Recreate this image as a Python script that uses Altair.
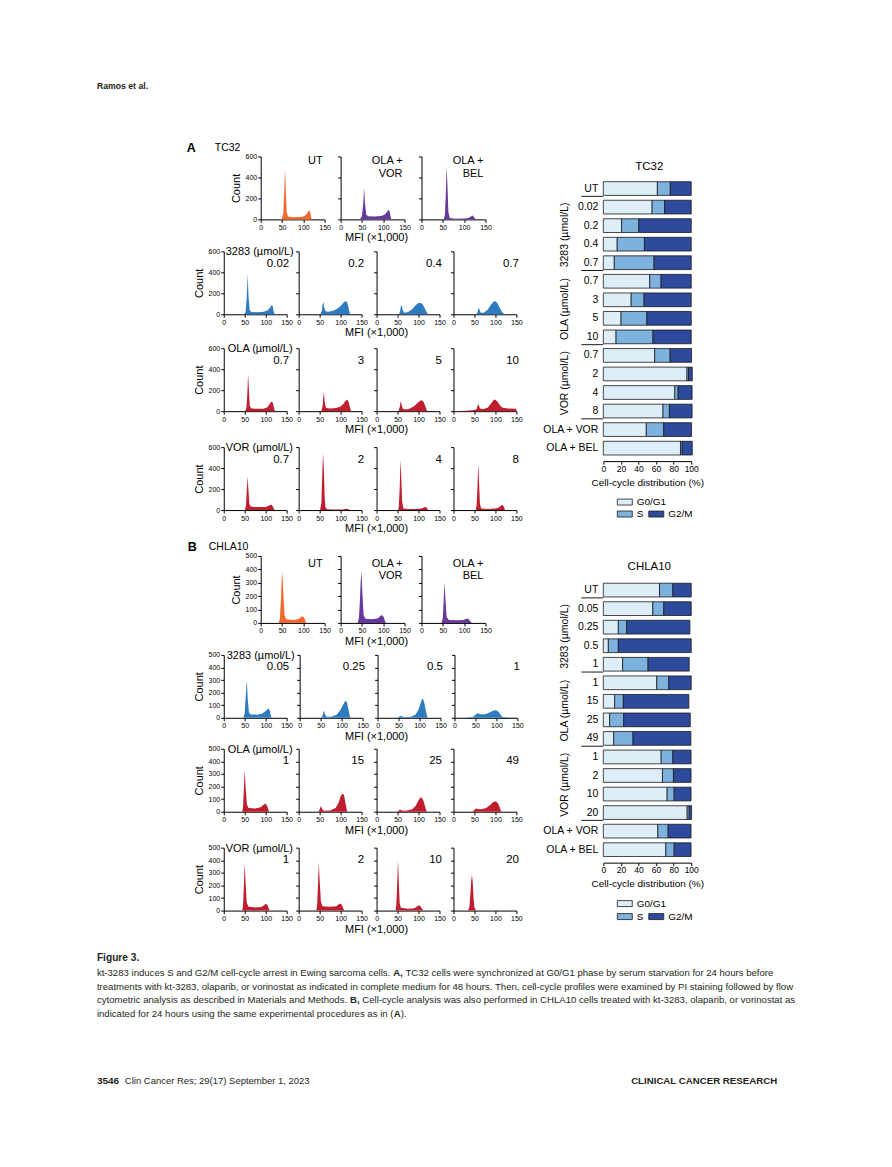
import altair as alt
import pandas as pd

FONT = "Liberation Sans"
INK = "#1a1a1a"
TXT = "#231f20"
ORANGE = "#F0692F"
PURPLE = "#67399B"
BLUE = "#2E7BC0"
RED = "#BE1E2E"
PHASES = ["G0/G1", "S", "G2/M"]
PHASE_COLORS = ["#DDEEF9", "#7DB1DE", "#2D4A9C"]

# ---------------- histogram curves (MFI x1,000 , count) ----------------
# Panel A (TC32)
A_UT = [(44, 0), (50, 8), (53, 60), (55, 250), (57, 480), (59, 260), (61, 70), (64, 28), (75, 20), (90, 22), (100, 28), (106, 42), (110, 65), (113, 85), (116, 72), (118, 20), (120, 0)]
A_OLA_VOR = [(45, 0), (50, 30), (53, 150), (55, 305), (57, 160), (60, 45), (65, 30), (80, 28), (95, 32), (103, 45), (108, 65), (112, 90), (115, 78), (117, 30), (119, 0)]
A_OLA_BEL = [(52, 0), (55, 50), (57, 250), (59, 510), (61, 300), (63, 70), (66, 12), (80, 6), (100, 8), (110, 14), (116, 28), (120, 36), (123, 22), (127, 0)]

A_3283 = [
    [(48, 0), (52, 20), (55, 180), (57, 385), (59, 170), (62, 35), (66, 22), (80, 20), (95, 24), (104, 35), (110, 60), (114, 88), (117, 75), (119, 30), (121, 0)],
    [(52, 0), (55, 30), (57, 90), (59, 117), (61, 60), (64, 28), (70, 25), (80, 32), (90, 48), (100, 80), (106, 108), (111, 124), (115, 118), (118, 80), (121, 25), (123, 0)],
    [(53, 0), (56, 30), (58, 75), (60, 88), (62, 40), (66, 15), (75, 22), (85, 48), (93, 85), (99, 106), (104, 110), (109, 98), (114, 65), (118, 30), (122, 5), (124, 0)],
    [(55, 0), (58, 30), (60, 60), (62, 45), (65, 15), (72, 15), (82, 45), (90, 95), (96, 122), (101, 124), (106, 95), (111, 55), (116, 20), (121, 5), (125, 0)],
]
A_OLA = [
    [(51, 0), (54, 30), (56, 150), (58, 355), (60, 200), (62, 50), (66, 25), (80, 22), (95, 24), (104, 38), (109, 65), (114, 92), (117, 80), (120, 30), (122, 0)],
    [(54, 0), (57, 50), (59, 150), (60, 180), (62, 90), (65, 30), (75, 25), (90, 30), (100, 45), (107, 70), (112, 100), (116, 110), (119, 90), (122, 40), (125, 0)],
    [(52, 0), (55, 35), (57, 85), (58, 95), (60, 55), (63, 20), (70, 15), (80, 25), (90, 50), (98, 80), (104, 100), (108, 104), (112, 90), (116, 50), (119, 15), (121, 0)],
    [(0, 0), (30, 5), (50, 12), (55, 18), (57, 45), (59, 72), (61, 45), (64, 22), (72, 20), (82, 35), (90, 75), (96, 108), (100, 110), (105, 90), (111, 55), (117, 32), (130, 26), (150, 22)],
]
A_VOR = [
    [(50, 0), (53, 40), (55, 200), (57, 320), (59, 180), (61, 60), (64, 35), (75, 30), (90, 28), (100, 30), (107, 40), (112, 50), (115, 48), (118, 25), (121, 0)],
    [(51, 0), (54, 60), (56, 300), (58, 545), (60, 400), (62, 120), (64, 25), (68, 8), (85, 5), (105, 6), (112, 10), (116, 12), (120, 5), (123, 0)],
    [(51, 0), (53, 30), (55, 200), (57, 480), (59, 300), (61, 80), (64, 15), (75, 10), (95, 10), (107, 14), (113, 25), (117, 32), (120, 20), (123, 0)],
    [(53, 0), (55, 40), (57, 200), (59, 445), (61, 260), (63, 60), (66, 14), (80, 10), (100, 14), (108, 25), (113, 40), (117, 50), (120, 30), (123, 0)],
]

# Panel B (CHLA10)
B_UT = [(42, 0), (45, 30), (47, 150), (49, 300), (51, 385), (53, 220), (56, 55), (60, 28), (75, 22), (88, 28), (94, 42), (98, 50), (102, 38), (105, 12), (107, 0)]
B_OLA_VOR = [(40, 0), (43, 40), (45, 150), (47, 300), (49, 388), (51, 230), (54, 60), (58, 32), (75, 28), (88, 35), (93, 52), (97, 60), (101, 45), (104, 15), (106, 0)]
B_OLA_BEL = [(47, 0), (50, 40), (52, 170), (54, 303), (56, 180), (59, 45), (64, 22), (85, 20), (98, 22), (104, 30), (108, 33), (112, 24), (115, 8), (118, 0)]

B_3283 = [
    [(47, 0), (50, 40), (52, 150), (55, 300), (57, 160), (60, 45), (64, 27), (80, 25), (92, 35), (100, 55), (104, 68), (107, 72), (110, 55), (112, 20), (114, 0)],
    [(52, 0), (55, 25), (57, 50), (58, 58), (60, 30), (64, 8), (75, 8), (88, 25), (97, 60), (103, 100), (107, 125), (110, 136), (113, 120), (116, 70), (119, 20), (121, 0)],
    [(48, 0), (52, 10), (55, 16), (58, 10), (65, 5), (80, 8), (90, 25), (97, 60), (102, 110), (106, 150), (109, 145), (112, 110), (115, 55), (118, 15), (120, 0)],
    [(0, 0), (30, 2), (45, 8), (50, 25), (54, 37), (58, 33), (65, 27), (75, 30), (85, 45), (92, 56), (97, 60), (102, 56), (107, 40), (111, 18), (115, 6), (130, 3), (150, 2)],
]
B_OLA = [
    [(44, 0), (46, 40), (48, 180), (50, 330), (52, 200), (55, 60), (59, 30), (75, 25), (88, 35), (95, 55), (99, 65), (103, 50), (106, 20), (108, 0)],
    [(47, 0), (50, 18), (53, 45), (56, 22), (60, 8), (75, 10), (88, 30), (95, 70), (100, 120), (104, 145), (108, 132), (111, 80), (114, 25), (116, 0)],
    [(50, 0), (53, 10), (56, 18), (60, 10), (70, 8), (85, 20), (93, 45), (99, 85), (104, 110), (107, 113), (111, 95), (115, 50), (118, 15), (120, 0)],
    [(45, 0), (50, 15), (54, 26), (58, 22), (66, 20), (78, 30), (88, 55), (95, 78), (100, 84), (105, 72), (109, 45), (112, 15), (114, 0)],
]
B_VOR = [
    [(44, 0), (46, 40), (48, 200), (50, 380), (52, 220), (55, 60), (59, 30), (75, 25), (90, 28), (96, 42), (100, 55), (104, 45), (107, 18), (109, 0)],
    [(42, 0), (44, 40), (46, 200), (48, 385), (50, 240), (53, 70), (57, 35), (75, 30), (90, 35), (95, 48), (99, 56), (103, 45), (106, 18), (109, 0)],
    [(45, 0), (47, 40), (49, 200), (51, 400), (53, 230), (55, 60), (58, 22), (75, 15), (90, 18), (96, 32), (101, 43), (105, 35), (108, 15), (112, 0)],
    [(35, 0), (38, 30), (40, 120), (42, 230), (44, 285), (46, 220), (48, 90), (50, 25), (53, 5), (56, 0)],
]

A_DOSES = {"3283": ["0.02", "0.2", "0.4", "0.7"], "OLA": ["0.7", "3", "5", "10"], "VOR": ["0.7", "2", "4", "8"]}
B_DOSES = {"3283": ["0.05", "0.25", "0.5", "1"], "OLA": ["1", "15", "25", "49"], "VOR": ["1", "2", "10", "20"]}
DRUG_TITLES = {"3283": "3283 (µmol/L)", "OLA": "OLA (µmol/L)", "VOR": "VOR (µmol/L)"}
A_YTICKS = [0, 200, 400, 600]
B_YTICKS = [0, 100, 200, 300, 400, 500]
X_TICKS = [0, 50, 100, 150]

# ---------------- cell-cycle distribution (%) ----------------
TC32_LABELS = ["UT", "0.02", "0.2", "0.4", "0.7", "0.7", "3", "5", "10", "0.7", "2", "4", "8", "OLA + VOR", "OLA + BEL"]
TC32_G1 = [61.5, 55.5, 20.8, 15.8, 12.5, 52.8, 31.7, 20.2, 14.5, 58.4, 95.2, 81.3, 67.9, 48.9, 87.8]
TC32_S = [14.7, 14.3, 19.6, 31.0, 45.2, 12.9, 14.7, 29.4, 42.0, 17.6, 1.8, 3.8, 7.3, 19.8, 1.9]
TC32_G2 = [23.8, 30.2, 59.6, 53.2, 42.3, 34.3, 53.6, 50.4, 43.5, 24.4, 4.2, 15.9, 25.8, 31.7, 11.5]

CHLA10_LABELS = ["UT", "0.05", "0.25", "0.5", "1", "1", "15", "25", "49", "1", "2", "10", "20", "OLA + VOR", "OLA + BEL"]
CHLA10_G1 = [63.9, 56.3, 17.1, 5.7, 22.0, 60.8, 12.9, 7.2, 11.8, 65.8, 67.3, 72.6, 95.4, 62.0, 71.1]
CHLA10_S = [15.2, 12.5, 9.5, 11.4, 28.9, 13.7, 9.9, 16.0, 22.0, 13.3, 12.5, 8.0, 2.3, 11.8, 9.5]
CHLA10_G2 = [20.9, 31.2, 71.9, 82.9, 46.8, 25.5, 74.5, 75.7, 65.8, 20.7, 20.0, 19.2, 2.7, 26.0, 19.2]

GROUP_LABELS = ["3283 (µmol/L)", "OLA (µmol/L)", "VOR (µmol/L)"]
GROUP_CENTERS = [2.5, 6.5, 10.5]
GROUP_BREAKS = [0.42, 4.42, 8.42, 12.42]

LEG_COL = [0, 0, 1]
LEG_ROW = [0, 1, 1]

# caption lines as (regular, bold, regular) pieces
CAPTION = [
    ("kt-3283 induces S and G2/M cell-cycle arrest in Ewing sarcoma cells. ", "A,",
     " TC32 cells were synchronized at G0/G1 phase by serum starvation for 24 hours before"),
    ("treatments with kt-3283, olaparib, or vorinostat as indicated in complete medium for 48 hours. Then, cell-cycle profiles were examined by PI staining followed by flow", "", ""),
    ("cytometric analysis as described in Materials and Methods. ", "B,",
     " Cell-cycle analysis was also performed in CHLA10 cells treated with kt-3283, olaparib, or vorinostat as"),
    ("indicated for 24 hours using the same experimental procedures as in (", "A", ")."),
]

# Arial / Liberation Sans advance widths (1/1000 em), used to butt caption pieces together
_W = {" ": 278, "!": 278, "%": 889, "(": 333, ")": 333, "+": 584, ",": 278, "-": 333, ".": 278, "/": 278,
      ":": 278, ";": 278, "A": 667, "B": 667, "C": 722, "D": 722, "E": 667, "F": 611, "G": 778, "H": 722,
      "I": 278, "J": 500, "K": 667, "L": 556, "M": 833, "N": 722, "O": 778, "P": 667, "Q": 778, "R": 722,
      "S": 667, "T": 611, "U": 722, "V": 667, "W": 944, "X": 667, "Y": 667, "Z": 611, "a": 556, "b": 556,
      "c": 500, "d": 556, "e": 556, "f": 278, "g": 556, "h": 556, "i": 222, "j": 222, "k": 500, "l": 222,
      "m": 833, "n": 556, "o": 556, "p": 556, "q": 556, "r": 333, "s": 500, "t": 278, "u": 556, "v": 500,
      "w": 722, "x": 500, "y": 500, "z": 500}
_WB = {"A": 722, "B": 722, ",": 278}

ONE = pd.DataFrame({"k": [0]})


def text_width(s, size, bold=False):
    tbl = _WB if bold else _W
    return sum(tbl.get(c, _W.get(c, 556)) for c in s) * size / 1000.0


def spacer(w, h):
    return alt.Chart(ONE).mark_rect(opacity=0).encode(
        x=alt.value(0), x2=alt.value(w), y=alt.value(0), y2=alt.value(h)).properties(width=w, height=h)


def box_layer(L, W, R, T, H, B):
    return alt.Chart(ONE).mark_rect(opacity=0).encode(
        x=alt.value(-L), x2=alt.value(W + R), y=alt.value(-T), y2=alt.value(H + B))


def text_layer(text, x, y, align="left", size=11, weight="normal", color="black", angle=0):
    return alt.Chart(ONE).mark_text(text=text, align=align, baseline="middle", fontSize=size,
                                    fontWeight=weight, color=color, font=FONT, angle=angle).encode(
        x=alt.value(x), y=alt.value(y))


def hist_panel(points, color, ymax, yticks, W, H, L, R, T, B, first, texts):
    df = pd.DataFrame(points, columns=["mfi", "count"])
    xaxis = alt.Axis(values=X_TICKS, labelFontSize=7, tickSize=3, labelPadding=1, labelFlush=False,
                     labelOverlap=False)
    yaxis = alt.Axis(values=yticks, labels=first, labelFontSize=7, tickSize=3, labelPadding=1,
                     titleFontSize=11, titlePadding=4, labelFlush=False, labelOverlap=False)
    area = alt.Chart(df).mark_area(color=color, opacity=1).encode(
        x=alt.X("mfi:Q", title=None, scale=alt.Scale(domain=[0, 150], nice=False, zero=False), axis=xaxis),
        y=alt.Y("count:Q", title="Count" if first else None, scale=alt.Scale(domain=[0, ymax], nice=False), axis=yaxis),
    )
    layers = [box_layer(L, W, R, T, H, B), area]
    for t in texts:
        layers.append(text_layer(*t))
    return alt.layer(*layers).properties(width=W, height=H)


def strip(h):
    return alt.layer(text_layer("MFI (×1,000)", 369, 7, align="center", size=11)).properties(width=527, height=h)


def top_row(curves, labels, ymax, yticks, H, T, label_y, extra):
    W = 64
    geo = [(252, 8), (8, 9), (8, 49)]
    panels = []
    for i, ((pts, col), lab, (L, R)) in enumerate(zip(curves, labels, geo)):
        texts = []
        for j, line in enumerate(lab):
            texts.append((line, W - 2, label_y + j * 12.5, "right", 11))
        if i == 0:
            texts += extra
        panels.append(hist_panel(pts, col, ymax, yticks, W, H, L, R, T, 12, i == 0, texts))
    return panels


def drug_row(curves, doses, drug, color, ymax, yticks, T, dose_y, title_dx):
    W, H = 63, 63
    geo = [(215, 8), (4, 11), (4, 10), (4, 18)]
    panels = []
    for i, (pts, dose, (L, R)) in enumerate(zip(curves, doses, geo)):
        texts = [(dose, W + 2.5, dose_y, "right", 11.5)]
        if i == 0:
            texts.append((DRUG_TITLES[drug], title_dx, 1, "left", 11))
        panels.append(hist_panel(pts, color, ymax, yticks, W, H, L, R, T, 12, i == 0, texts))
    return panels


def row(panels, strip_h):
    return alt.vconcat(alt.hconcat(spacer(1, 1), *panels, spacing=0), strip(strip_h), spacing=0)


def bar_chart(labels, g1, s, g2, L, T, B, title, title_dy):
    W, H = 88, 284
    R = 349 - W - L
    recs = []
    for i, vals in enumerate(zip(g1, s, g2)):
        start = 0.0
        for ph, v in zip(PHASES, vals):
            recs.append({"row": i, "phase": ph, "start": start, "end": start + v})
            start += v
    df = pd.DataFrame(recs)
    yscale = alt.Scale(domain=[-0.6, 14.7], reverse=True, nice=False, zero=False)
    bars = alt.Chart(df).transform_calculate(top="datum.row - 0.37", bot="datum.row + 0.37").mark_bar(
        stroke=INK, strokeWidth=0.8).encode(
        x=alt.X("start:Q", scale=alt.Scale(domain=[0, 100], nice=False),
                axis=alt.Axis(values=[0, 20, 40, 60, 80, 100], labelFontSize=8.5, tickSize=3, labelPadding=0,
                              labelFlush=False, title="Cell-cycle distribution (%)", titleFontSize=10,
                              titlePadding=4.5)),
        x2="end:Q",
        y=alt.Y("top:Q", scale=yscale, title=None,
                axis=alt.Axis(values=[0], labels=False, ticks=False)),
        y2="bot:Q",
        color=alt.Color("phase:N", scale=alt.Scale(domain=PHASES, range=PHASE_COLORS), legend=None),
    )
    lab_df = pd.DataFrame({"row": list(range(len(labels))), "label": labels})
    labs = alt.Chart(lab_df).mark_text(align="right", baseline="middle", fontSize=10.5, font=FONT,
                                       color="black").encode(
        y=alt.Y("row:Q", scale=yscale, axis=None), x=alt.value(-5), text="label:N")
    seps = alt.Chart(pd.DataFrame({"b": GROUP_BREAKS})).mark_rule(color=INK, strokeWidth=1).encode(
        y=alt.Y("b:Q", scale=yscale, axis=None), x=alt.value(-22), x2=alt.value(0))
    groups = alt.Chart(pd.DataFrame({"g": GROUP_LABELS, "c": GROUP_CENTERS})).mark_text(
        angle=270, fontSize=10.5, baseline="middle", align="center", font=FONT, color="black").encode(
        y=alt.Y("c:Q", scale=yscale, axis=None), x=alt.value(-38), text="g:N")
    ttl = text_layer(title, W / 2 + 2, title_dy, align="center", size=11.5)
    return alt.layer(box_layer(L, W, R, T, H, B), bars, labs, seps, groups, ttl).properties(width=W, height=H)


def legend_chart(T, H, B):
    # swatch columns sit 21.5 px and 53 px right of the bar chart's left edge
    W = 53
    lo = -21.5 / 31.5
    df = pd.DataFrame({"phase": PHASES, "col": LEG_COL, "row": LEG_ROW})
    base = alt.Chart(df).encode(
        x=alt.X("col:Q", scale=alt.Scale(domain=[lo, 1], nice=False, zero=False), axis=None),
        y=alt.Y("row:Q", scale=alt.Scale(domain=[0, 1], nice=False, reverse=True), axis=None))
    sw = base.mark_point(shape="M-1,-0.4H1V0.4H-1Z", size=225, filled=True, opacity=1, stroke=INK,
                         strokeWidth=0.8).encode(
        color=alt.Color("phase:N", scale=alt.Scale(domain=PHASES, range=PHASE_COLORS), legend=None))
    tx = base.mark_text(align="left", dx=12, fontSize=10, baseline="middle", font=FONT, color="black").encode(text="phase:N")
    return alt.layer(box_layer(0, W, 0, T, H, B), sw, tx).properties(width=W, height=H)


# ---------------- Section A ----------------
a_row1 = top_row([(A_UT, ORANGE), (A_OLA_VOR, PURPLE), (A_OLA_BEL, PURPLE)],
                 [["UT"], ["OLA +", "VOR"], ["OLA +", "BEL"]], 600, A_YTICKS, 63, 15, 5,
                 [("A", -74, -8, "left", 12.5, "bold"), ("TC32", -46, -8, "left", 10.5)])
a_row2 = drug_row(A_3283, A_DOSES["3283"], "3283", BLUE, 600, A_YTICKS, 6, 13, 2)
a_row3 = drug_row(A_OLA, A_DOSES["OLA"], "OLA", RED, 600, A_YTICKS, 8, 13, 4)
a_row4 = drug_row(A_VOR, A_DOSES["VOR"], "VOR", RED, 600, A_YTICKS, 10, 13, 2)
hist_a = alt.vconcat(row(a_row1, 14), row(a_row2, 14), row(a_row3, 14), row(a_row4, 16), spacing=0)
bars_a = alt.vconcat(spacer(1, 4), bar_chart(TC32_LABELS, TC32_G1, TC32_S, TC32_G2, 69, 17, 34, "TC32", -10.5),
                     legend_chart(7, 12, 24), spacing=0)
band_a = alt.hconcat(hist_a, bars_a, spacing=0)

# ---------------- Section B ----------------
b_row1 = top_row([(B_UT, ORANGE), (B_OLA_VOR, PURPLE), (B_OLA_BEL, PURPLE)],
                 [["UT"], ["OLA +", "VOR"], ["OLA +", "BEL"]], 500, B_YTICKS, 67, 18, 8,
                 [("B", -73, -9, "left", 12.5, "bold"), ("CHLA10", -52, -9, "left", 10.5)])
b_row2 = drug_row(B_3283, B_DOSES["3283"], "3283", BLUE, 500, B_YTICKS, 6, 12.5, 3)
b_row3 = drug_row(B_OLA, B_DOSES["OLA"], "OLA", RED, 500, B_YTICKS, 5, 12.5, 4)
b_row4 = drug_row(B_VOR, B_DOSES["VOR"], "VOR", RED, 500, B_YTICKS, 10, 12.5, 2)
hist_b = alt.vconcat(row(b_row1, 14), row(b_row2, 14), row(b_row3, 14), row(b_row4, 17), spacing=0)
bars_b = alt.vconcat(spacer(1, 4), bar_chart(CHLA10_LABELS, CHLA10_G1, CHLA10_S, CHLA10_G2, 68, 19, 30, "CHLA10", -11.5),
                     legend_chart(11, 13, 23), spacing=0)
band_b = alt.hconcat(hist_b, bars_b, spacing=0)

# ---------------- header / caption ----------------
header = alt.layer(text_layer("Ramos et al.", 89, 77, size=8.7, weight="bold", color=TXT)).properties(width=876, height=133)

CAP_SIZE = 9.6
cap_layers = [text_layer("Figure 3.", 89, 18, size=10.2, weight="bold", color=TXT)]
for i, (pre, bold, post) in enumerate(CAPTION):
    y = 33 + 14 * i
    x = 89
    cap_layers.append(text_layer(pre, x, y, size=CAP_SIZE, color=TXT))
    if bold:
        x += text_width(pre, CAP_SIZE)
        cap_layers.append(text_layer(bold, x, y, size=CAP_SIZE, weight="bold", color=TXT))
        x += text_width(bold, CAP_SIZE, bold=True)
        lead = len(post) - len(post.lstrip(" "))
        x += text_width(" " * lead, CAP_SIZE)
        cap_layers.append(text_layer(post.lstrip(" "), x, y, size=CAP_SIZE, color=TXT))
cap_layers += [
    text_layer("3546", 89, 142, size=10, weight="bold", color=TXT),
    text_layer("Clin Cancer Res; 29(17) September 1, 2023", 117, 142, size=9.5, color=TXT),
    text_layer("CLINICAL CANCER RESEARCH", 770, 142, align="right", size=9.7, weight="bold", color=TXT),
]
caption = alt.layer(*cap_layers).properties(width=876, height=160)

chart = alt.vconcat(header, band_a, band_b, caption, spacing=0).properties(padding=0).configure(
    font=FONT).configure_view(stroke=None).configure_axis(
    domainColor="black", tickColor="black", labelColor="black", titleColor="black", grid=False,
    titleFontWeight="normal", minExtent=0, domainWidth=1, tickWidth=1, labelFont=FONT, titleFont=FONT)

chart.save("out.html", embed_options={"renderer": "svg", "actions": False})
